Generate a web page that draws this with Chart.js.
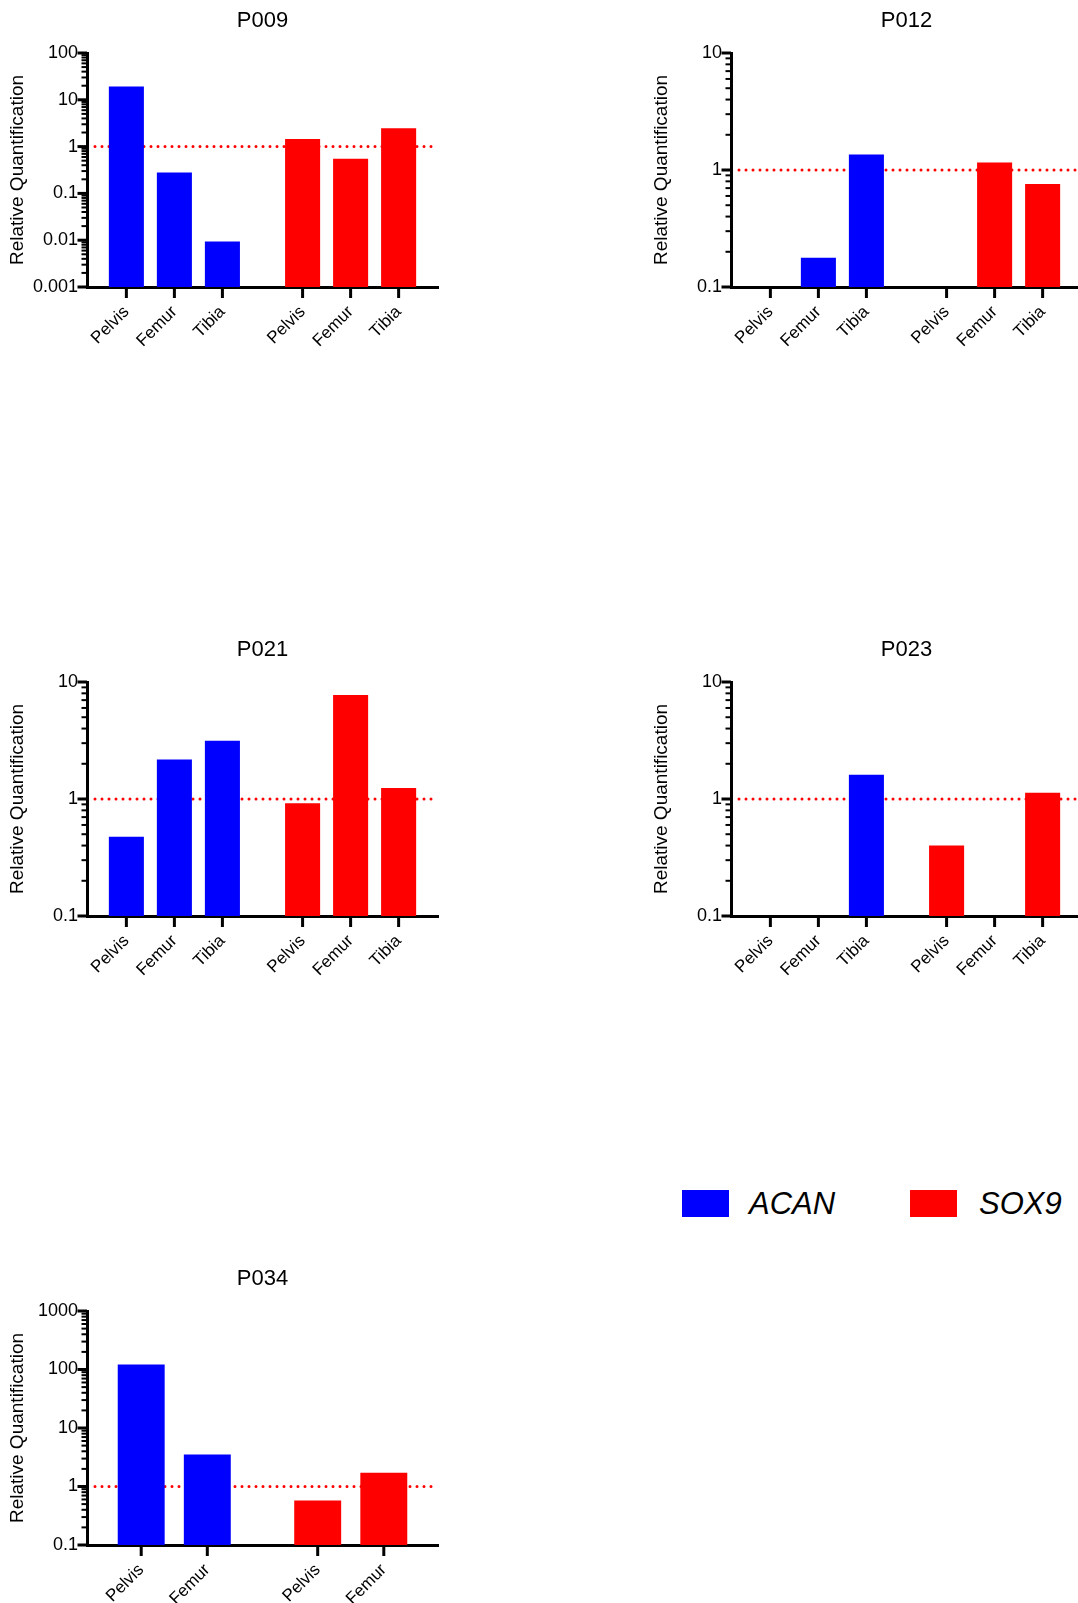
<!DOCTYPE html>
<html>
<head>
<meta charset="utf-8">
<title>ACAN and SOX9 relative quantification</title>
<script src="https://cdn.jsdelivr.net/npm/chart.js@4.4.0/dist/chart.umd.min.js"></script>
<style>
  html, body { margin: 0; padding: 0; background: #fff; width: 1078px; height: 1603px; overflow: hidden; position: relative; }
  canvas.panel { position: absolute; }
  .swatch { position: absolute; width: 47px; height: 27px; }
  .key { position: absolute; font-family: "Liberation Sans", Arial, sans-serif; font-style: italic; font-size: 31px; line-height: 30px; color: #000; white-space: nowrap; }
</style>
</head>
<body>
<canvas class="panel" id="p009" width="526" height="360" style="left:0px;top:0px"></canvas>
<canvas class="panel" id="p012" width="526" height="360" style="left:644px;top:0px"></canvas>
<canvas class="panel" id="p021" width="526" height="360" style="left:0px;top:629px"></canvas>
<canvas class="panel" id="p023" width="526" height="360" style="left:644px;top:629px"></canvas>
<canvas class="panel" id="p034" width="526" height="360" style="left:0px;top:1258px"></canvas>

<div class="swatch" style="left:682px;top:1190px;background:#0000ff"></div>
<div class="key" style="left:749px;top:1189px">ACAN</div>
<div class="swatch" style="left:910px;top:1190px;background:#ff0000"></div>
<div class="key" style="left:979px;top:1189px">SOX9</div>

<script>
// Sampling sites per patient panel
const sitesThree = ['Pelvis', 'Femur', 'Tibia'];
const sitesTwo = ['Pelvis', 'Femur'];

// Relative quantification per site (null = not measured)
const acanP009 = [19.3, 0.28, 0.0094];
const sox9P009 = [1.45, 0.55, 2.46];
const acanP012 = [null, 0.178, 1.36];
const sox9P012 = [null, 1.16, 0.76];
const acanP021 = [0.476, 2.18, 3.15];
const sox9P021 = [0.92, 7.74, 1.24];
const acanP023 = [null, null, 1.61];
const sox9P023 = [0.40, null, 1.13];
const acanP034 = [122, 3.54];
const sox9P034 = [0.575, 1.72];

// Log axis ranges [min, max]
const rangeP009 = [0.001, 100];
const rangeP012 = [0.1, 10];
const rangeP021 = [0.1, 10];
const rangeP023 = [0.1, 10];
const rangeP034 = [0.1, 1000];

// Calibrator level drawn as the dotted line
const referenceLevel = 1;

const FONT = '"Liberation Sans", Arial, sans-serif';
const BLUE = '#0000ff';
const RED = '#ff0000';
const GROUP_GAP = 1.67;   // spacing between the two gene groups, in site units
const EDGE = 0.82;        // margin from axis ends, in site units

function fmtPow(v) {
  const l = Math.log10(v);
  const e = Math.round(l);
  if (Math.abs(l - e) > 1e-6) return '';
  return e < 0 ? Math.pow(10, e).toFixed(-e) : String(Math.pow(10, e));
}

// Dotted reference line behind bars, plus major/minor tick marks
const axisDecor = {
  id: 'axisDecor',
  beforeDatasetsDraw(chart) {
    const { ctx, chartArea: a, scales: { y } } = chart;
    const py = y.getPixelForValue(referenceLevel);
    ctx.save();
    ctx.strokeStyle = RED;
    ctx.lineWidth = 3;
    ctx.lineCap = 'round';
    ctx.setLineDash([0, 7]);
    ctx.beginPath();
    ctx.moveTo(a.left + 8, py);
    ctx.lineTo(a.right - 2, py);
    ctx.stroke();
    ctx.restore();
  },
  afterDraw(chart) {
    const { ctx, chartArea: a, scales: { x, y } } = chart;
    ctx.save();
    ctx.strokeStyle = '#000';
    ctx.lineCap = 'butt';
    const lo = Math.round(Math.log10(y.min));
    const hi = Math.round(Math.log10(y.max));
    for (let e = lo; e <= hi; e++) {
      for (let m = 1; m <= 9; m++) {
        const v = m * Math.pow(10, e);
        if (v > y.max * 1.0001) break;
        const p = y.getPixelForValue(v);
        const major = m === 1;
        ctx.lineWidth = major ? 3 : 2;
        ctx.beginPath();
        ctx.moveTo(a.left - (major ? 9.5 : 5.5), p);
        ctx.lineTo(a.left, p);
        ctx.stroke();
      }
    }
    ctx.lineWidth = 3;
    x.ticks.forEach(t => {
      const p = x.getPixelForValue(t.value);
      ctx.beginPath();
      ctx.moveTo(p, a.bottom);
      ctx.lineTo(p, a.bottom + 11);
      ctx.stroke();
    });
    ctx.restore();
  }
};

function drawPanel(canvasId, title, sites, acan, sox9, range, barPct) {
  const n = sites.length;
  const posA = sites.map((_, i) => i);
  const posS = sites.map((_, i) => n - 1 + GROUP_GAP + i);
  const positions = posA.concat(posS);
  const tickLabels = sites.concat(sites);
  const toPoints = (vals, pos) => vals
    .map((v, i) => ({ x: pos[i], y: v }))
    .filter(p => p.y !== null);

  new Chart(document.getElementById(canvasId), {
    type: 'bar',
    data: {
      datasets: [
        { label: 'ACAN', data: toPoints(acan, posA), backgroundColor: BLUE },
        { label: 'SOX9', data: toPoints(sox9, posS), backgroundColor: RED }
      ]
    },
    options: {
      responsive: false,
      animation: false,
      devicePixelRatio: 1,
      layout: { padding: { left: 0, right: 88, top: 0, bottom: 0 } },
      datasets: {
        bar: { grouped: false, categoryPercentage: 1, barPercentage: barPct, borderWidth: 0 }
      },
      plugins: {
        legend: { display: false },
        tooltip: { enabled: false },
        title: {
          display: true,
          fullSize: false,
          text: title,
          color: '#000',
          font: { family: FONT, size: 22, weight: 'normal' },
          padding: { top: 8, bottom: 18.6 }
        }
      },
      scales: {
        x: {
          type: 'linear',
          bounds: 'data',
          offset: false,
          min: -EDGE,
          max: positions[positions.length - 1] + EDGE,
          grid: { display: false, drawTicks: false },
          border: { display: true, color: '#000', width: 3 },
          afterBuildTicks(s) { s.ticks = positions.map(v => ({ value: v })); },
          afterFit(s) { s.height = 73; },
          ticks: {
            autoSkip: false,
            minRotation: 45,
            maxRotation: 45,
            color: '#000',
            padding: 15,
            font: { family: FONT, size: 17 },
            callback: (v, i) => tickLabels[i]
          }
        },
        y: {
          type: 'logarithmic',
          min: range[0],
          max: range[1],
          grid: { display: false, drawTicks: false },
          border: { display: true, color: '#000', width: 3 },
          afterFit(s) { s.width = 87; },
          ticks: {
            autoSkip: false,
            color: '#000',
            padding: 9,
            font: { family: FONT, size: 18 },
            callback: v => fmtPow(v)
          },
          title: {
            display: true,
            text: 'Relative Quantification',
            color: '#000',
            font: { family: FONT, size: 19 },
            padding: { top: 6, bottom: 0 }
          }
        }
      }
    },
    plugins: [axisDecor]
  });
}

drawPanel('p009', 'P009', sitesThree, acanP009, sox9P009, rangeP009, 0.73);
drawPanel('p012', 'P012', sitesThree, acanP012, sox9P012, rangeP012, 0.73);
drawPanel('p021', 'P021', sitesThree, acanP021, sox9P021, rangeP021, 0.73);
drawPanel('p023', 'P023', sitesThree, acanP023, sox9P023, rangeP023, 0.73);
drawPanel('p034', 'P034', sitesTwo, acanP034, sox9P034, rangeP034, 0.71);
</script>
</body>
</html>
